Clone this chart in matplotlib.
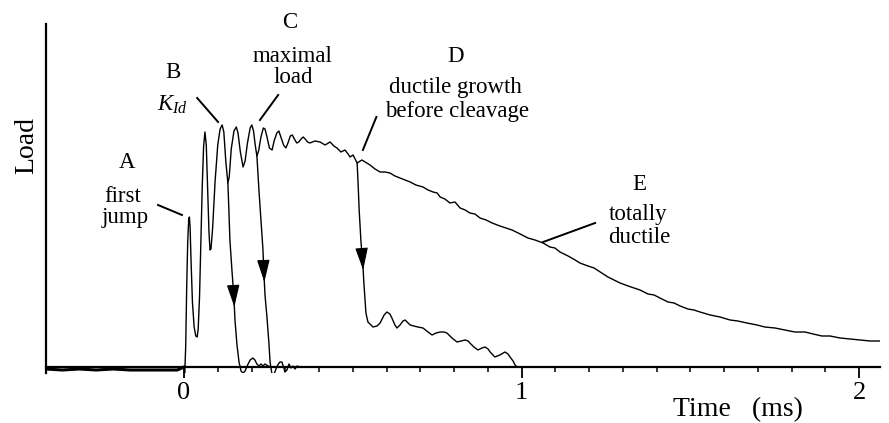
import matplotlib
matplotlib.use("Agg")
import matplotlib.pyplot as plt
import numpy as np

plt.rcParams['font.family'] = ['Liberation Serif', 'DejaVu Serif']
plt.rcParams['mathtext.fontset'] = 'custom'
plt.rcParams['mathtext.rm'] = 'Liberation Serif'
plt.rcParams['mathtext.it'] = 'Liberation Serif:italic'

# load signal before impact (time in ms, load in arbitrary units)
pre_time = [-0.41, -0.36, -0.31, -0.26, -0.21, -0.16, -0.11, -0.06, -0.02, 0.0]
pre_load = [-2, -3, -2, -3, -2, -3, -3, -3, -3, 0]

# full record, totally ductile specimen (E)
ductile_time = [0.000, 0.002, 0.005, 0.008, 0.011, 0.014, 0.016, 0.018, 0.021, 0.025,
                0.030, 0.035, 0.039, 0.042, 0.046, 0.050, 0.054, 0.058, 0.062, 0.066,
                0.070, 0.074, 0.077, 0.080, 0.085, 0.092, 0.100, 0.107, 0.113, 0.118,
                0.124, 0.130, 0.134, 0.140, 0.148, 0.155, 0.160, 0.167, 0.175, 0.181,
                0.188, 0.196, 0.201, 0.206, 0.211, 0.216, 0.221, 0.228, 0.235, 0.240,
                0.246, 0.253, 0.261, 0.267, 0.275, 0.281, 0.287, 0.295, 0.302, 0.308,
                0.315, 0.321, 0.327, 0.334, 0.340, 0.347, 0.353, 0.359, 0.366, 0.373,
                0.388, 0.403,
                0.418, 0.433, 0.444, 0.453, 0.465, 0.477, 0.486, 0.492, 0.501, 0.513,
                0.527, 0.551, 0.566, 0.581, 0.596, 0.610, 0.625, 0.640, 0.655, 0.670,
                0.687, 0.708, 0.723, 0.738, 0.750, 0.759, 0.773, 0.788, 0.803, 0.818,
                0.833, 0.847, 0.862, 0.877, 0.895, 0.913, 0.936, 0.954, 0.972, 0.996,
                1.019, 1.040, 1.064, 1.084, 1.099, 1.114, 1.138, 1.159, 1.173, 1.197,
                1.215, 1.233, 1.256, 1.274, 1.292, 1.316, 1.333, 1.351, 1.375, 1.393,
                1.410, 1.434, 1.452, 1.470, 1.493, 1.511, 1.529, 1.559, 1.588, 1.618,
                1.641, 1.668, 1.698, 1.721, 1.751, 1.781, 1.810, 1.840, 1.864, 1.890,
                1.914, 1.944, 1.973, 2.003, 2.033, 2.062]
ductile_load = [0, -8, 20, 80, 125, 148, 150, 140, 105, 65,
                40, 31, 30, 38, 70, 127, 180, 220, 235, 222,
                180, 135, 117, 118, 140, 185, 222, 238, 242, 235,
                205, 184, 190, 218, 236, 240, 234, 215, 200, 206,
                224, 239, 242, 236, 222, 211, 216, 230, 239, 238,
                230, 219, 217, 226, 234, 236, 230, 222, 219, 224,
                231, 232, 228, 224, 225, 228, 230, 228, 225, 224,
                226, 225,
                222, 225, 221, 219, 215, 217, 213, 210, 212, 204,
                207, 202, 198, 195, 195, 194, 191, 189, 187, 185,
                182, 180, 177, 175, 174, 170, 168, 164, 165, 159,
                157, 154, 153, 149, 147, 144, 141, 139, 137, 133,
                129, 127, 124, 120, 119, 115, 111, 107, 104, 101,
                99, 95, 90, 87, 84, 81, 79, 77, 73, 72,
                69, 65, 64, 61, 58, 57, 55, 52, 50, 47,
                46, 44, 42, 40, 39, 37, 35, 35, 33, 31,
                31, 29, 28, 27, 26, 26]

# cleavage at K_Id (B)
cleave_b_time = [0.130, 0.133, 0.136, 0.142, 0.148, 0.151, 0.157, 0.163, 0.169, 0.175,
                 0.181, 0.187, 0.196, 0.204, 0.210, 0.216, 0.222, 0.228, 0.234, 0.240,
                 0.249, 0.261]
cleave_b_load = [184, 157, 127, 97, 69, 47, 22, 5, -4, -6,
                 -4, 1, 7, 9, 7, 3, 1, 3, 1, 3,
                 1, 0]

# cleavage at maximal load (C)
cleave_c_time = [0.216, 0.222, 0.228, 0.234, 0.237, 0.240, 0.246, 0.252, 0.255, 0.261,
                 0.267, 0.276, 0.284, 0.290, 0.296, 0.299, 0.305, 0.311, 0.317, 0.323,
                 0.329, 0.335, 0.344, 0.350]
cleave_c_load = [211, 177, 147, 117, 92, 72, 49, 22, 5, -8,
                 -7, 1, 5, 5, -1, -5, -3, 3, -1, 1,
                 -2, 1, 0, 0]

# cleavage after ductile growth (D)
cleave_d_time = [0.513, 0.516, 0.519, 0.524, 0.530, 0.533, 0.539, 0.545, 0.560, 0.572,
                 0.581, 0.593, 0.601, 0.610, 0.616, 0.625, 0.631, 0.640, 0.649, 0.655,
                 0.664, 0.670, 0.681, 0.693, 0.708, 0.723, 0.735, 0.747, 0.759, 0.770,
                 0.779, 0.794, 0.809, 0.821, 0.833, 0.842, 0.847, 0.859, 0.871, 0.883,
                 0.892, 0.901, 0.907, 0.921, 0.936, 0.951, 0.960, 0.966, 0.975, 0.981,
                 0.987]
cleave_d_load = [204, 182, 157, 127, 102, 84, 54, 45, 40, 41,
                 44, 52, 55, 53, 49, 42, 39, 42, 46, 47,
                 44, 42, 41, 40, 39, 35, 32, 34, 35, 35,
                 34, 29, 25, 26, 27, 26, 24, 20, 17, 19,
                 20, 18, 15, 10, 12, 15, 13, 10, 6, 2,
                 0]

# load where the direction arrows sit on each cleavage drop
arrow_loads = [60, 85, 97]

fig = plt.figure(figsize=(8.89, 4.23), dpi=100)
ax = fig.add_axes([0.0517, 0.1182, 0.9381, 0.8251])

line_kw = dict(color='black', lw=1.0, solid_joinstyle='round')
ax.plot(pre_time, pre_load, color='black', lw=2.2)
ax.plot(ductile_time, ductile_load, **line_kw)
ax.plot(cleave_b_time, cleave_b_load, **line_kw)
ax.plot(cleave_c_time, cleave_c_load, **line_kw)
ax.plot(cleave_d_time, cleave_d_load, **line_kw)

# arrow heads pointing down each cleavage drop
for (bt, bl), lt in zip([(cleave_b_time, cleave_b_load),
                         (cleave_c_time, cleave_c_load),
                         (cleave_d_time, cleave_d_load)], arrow_loads):
    bt = np.array(bt)
    bl = np.array(bl)
    n = np.argmax(bl <= 5) + 1           # falling part of the branch
    fall_t = bt[:n][::-1]
    fall_l = bl[:n][::-1]
    tip = (np.interp(lt, fall_l, fall_t), lt)
    tail = (np.interp(lt + 14, fall_l, fall_t), lt + 14)
    ax.annotate('', xy=tip, xytext=tail,
                arrowprops=dict(arrowstyle='-|>,head_length=1.4,head_width=0.4',
                                color='black', lw=0.8, shrinkA=0, shrinkB=0,
                                mutation_scale=10))

ax.set_xlim(-0.409, 2.062)
ax.set_ylim(-6, 343)

for s in ['top', 'right']:
    ax.spines[s].set_visible(False)
ax.spines['left'].set_linewidth(1.6)
ax.spines['bottom'].set_linewidth(1.6)
ax.spines['bottom'].set_position(('data', 0))

ax.set_yticks([])
ax.set_xticks([0, 1, 2])
ax.set_xticklabels(['0', '1', '2'])
ax.set_xticks(np.round(np.arange(0.1, 2.01, 0.1), 1), minor=True)
ax.tick_params(axis='x', which='major', direction='out', length=8, width=1.3,
               labelsize=19, pad=3)
ax.tick_params(axis='x', which='minor', direction='out', length=3.5, width=1.1)

txt = dict(fontsize=16.5, ha='center', va='center')
ax.text(-0.169, 204, 'A', **txt)
ax.text(-0.181, 170, 'first', **txt)
ax.text(-0.175, 149, 'jump', **txt)
ax.text(-0.033, 294, 'B', **txt)
ax.text(-0.033, 262, r'$K_{Id}$', **txt)
ax.text(0.314, 344, 'C', **txt)
ax.text(0.323, 310, 'maximal', **txt)
ax.text(0.323, 289, 'load', **txt)
ax.text(0.805, 310, 'D', **txt)
ax.text(0.805, 279, 'ductile growth', **txt)
ax.text(0.810, 255, 'before cleavage', **txt)
ax.text(1.348, 182, 'E', **txt)
ax.text(1.345, 152, 'totally', **txt)
ax.text(1.348, 129, 'ductile', **txt)

leaders = [((-0.077, 162), (-0.006, 152)),
           ((0.039, 269), (0.101, 245)),
           ((0.279, 272), (0.225, 247)),
           ((0.570, 250), (0.530, 217)),
           ((1.218, 144), (1.064, 125))]
for p0, p1 in leaders:
    ax.plot([p0[0], p1[0]], [p0[1], p1[1]], color='black', lw=1.4)

fig.text(0.030, 0.657, 'Load', rotation=90, fontsize=20, ha='center', va='center')
fig.text(0.830, 0.031, 'Time   (ms)', fontsize=20, ha='center', va='center')

fig.savefig('out.png', dpi=100)
